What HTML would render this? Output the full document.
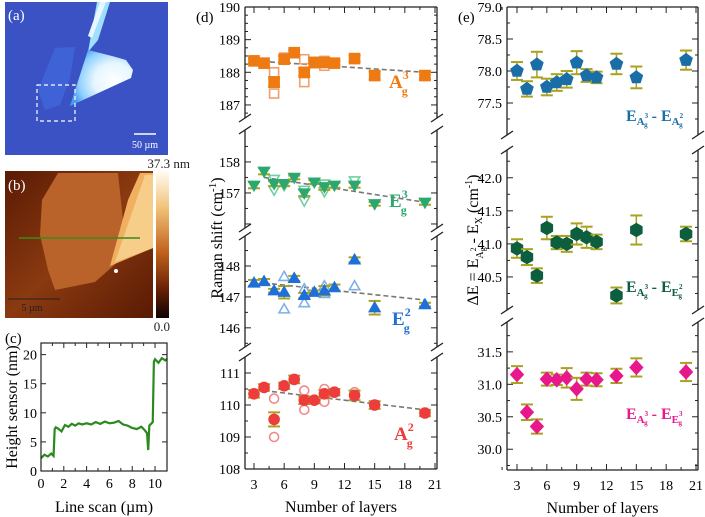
<!DOCTYPE html>
<html><head><meta charset="utf-8">
<style>
body{margin:0;background:#fff;width:705px;height:517px;overflow:hidden;font-family:"Liberation Serif",serif}
svg{display:block}
text{font-family:"Liberation Serif",serif}
</style></head>
<body>
<svg id="fig" width="705" height="517" viewBox="0 0 705 517">
<defs>
 <radialGradient id="flakeglow" cx="0.7" cy="0.55" r="0.7">
  <stop offset="0" stop-color="#ffffff"/><stop offset="0.45" stop-color="#e6f6ff"/><stop offset="0.8" stop-color="#8fd0ff"/><stop offset="1" stop-color="#4a9cf0"/>
 </radialGradient>
 <linearGradient id="cbar" x1="0" y1="0" x2="0" y2="1">
  <stop offset="0" stop-color="#fffdf2"/><stop offset="0.25" stop-color="#f2c27a"/><stop offset="0.55" stop-color="#c2621c"/><stop offset="0.8" stop-color="#6a2206"/><stop offset="1" stop-color="#100200"/>
 </linearGradient>
 <linearGradient id="afmbg" x1="0" y1="0" x2="1" y2="1">
  <stop offset="0" stop-color="#5a1a04"/><stop offset="0.5" stop-color="#8a3a10"/><stop offset="1" stop-color="#5a1a04"/>
 </linearGradient>
</defs>
<!-- panel a -->
<g>
 <rect x="5" y="2" width="163" height="153" fill="#3b52c4"/>
 <path d="M55,48 L75,47 L70,78 L60,105 L45,110 L38,90 Z" fill="#4266dc" opacity="0.8"/>
 <path d="M97,2 L110,2 L98,40 L88,52 Z" fill="#9fe0ff"/>
 <path d="M88,50 L112,56 L126,60 L133,70 L131,78 L70,106 Z" fill="url(#flakeglow)"/>
 <path d="M100,2 L106,2 L92,38 L88,36 Z" fill="#e8f6ff"/>
 <rect x="37" y="85" width="38" height="36" fill="none" stroke="#fff" stroke-width="1.2" stroke-dasharray="4,3"/>
 <line x1="134" y1="134" x2="156" y2="134" stroke="#fff" stroke-width="1.5"/>
 <text x="145" y="148" font-size="10" fill="#fff" text-anchor="middle" font-family="Liberation Sans">50 µm</text>
 <text x="8" y="20" font-size="15" fill="#fff">(a)</text>
</g>
<!-- panel b -->
<g>
 <rect x="5" y="171" width="148" height="147" fill="url(#afmbg)"/>
 <path d="M58,173 L118,173 L124,230 L120,260 L95,282 L55,290 L48,270 L40,235 L42,200 Z" fill="#b9622a"/>
 <path d="M140,173 L153,173 L153,248 L110,266 L128,200 Z" fill="#f0b060"/>
 <path d="M145,175 L153,175 L153,248 L115,262 Z" fill="#f7cd8a"/>
 <line x1="19" y1="238" x2="140" y2="238" stroke="#3c8a1a" stroke-width="1.5"/>
 <circle cx="116" cy="271" r="2" fill="#fff"/>
 <line x1="8" y1="299" x2="60" y2="299" stroke="#222" stroke-width="1"/>
 <text x="32" y="311" font-size="10" fill="#222" text-anchor="middle">5 µm</text>
 <text x="8" y="190" font-size="15" fill="#fff">(b)</text>
 <rect x="156" y="171" width="13" height="147" fill="url(#cbar)"/>
 <text x="190" y="168" font-size="13" text-anchor="end" fill="#222">37.3 nm</text>
 <text x="170" y="331" font-size="13" text-anchor="end" fill="#222">0.0</text>
</g>
<g id="pc"></g>
<g id="pd"></g>
<g id="pe"></g>
</svg>
<script>
const NS='http://www.w3.org/2000/svg';
function el(parent,tag,attrs,txt){const e=document.createElementNS(NS,tag);for(const k in attrs)e.setAttribute(k,attrs[k]);if(txt!==undefined)e.textContent=txt;parent.appendChild(e);return e;}

/* ---------- data: panel c ---------- */
const scanX=[0,0.3,0.6,0.9,1.1,1.2,1.3,1.5,1.8,2.1,2.4,2.7,3.0,3.3,3.6,4.0,4.4,4.8,5.2,5.6,6.0,6.4,6.8,7.2,7.6,8.0,8.4,8.8,9.1,9.3,9.4,9.5,9.6,9.8,9.9,10.0,10.3,10.6,10.9,11.05];
const scanY=[2.2,2.8,2.5,3.0,2.6,7.2,7.5,7.3,6.8,7.9,7.6,8.1,7.8,8.2,8.0,8.2,8.0,8.4,8.1,8.5,8.2,8.3,8.6,8.0,7.8,7.4,7.2,7.6,7.0,6.5,3.6,7.8,8.0,8.4,18.8,19.2,18.6,19.4,19.0,19.3];
const cXTicks=[0,2,4,6,8,10];
const cYTicks=[0,5,10,15,20];

/* ---------- data: panel d ---------- */
const layers=[3,4,5,6,7,8,9,10,11,13,15,20];
const a3Fill=[188.35,188.28,187.7,188.4,188.6,188.0,188.3,188.3,188.28,188.42,187.9,187.9];
const a3Err=[0.08,0.07,0.15,0.1,0.08,0.12,0.15,0.1,0.07,0.1,0.12,0.12];
const a3OpenX=[5,5,6,8,8,10,10];
const a3OpenY=[188.0,187.35,188.45,188.4,187.7,188.35,188.2];
const e3Fill=[157.25,157.7,157.3,157.3,157.5,157.0,157.35,157.2,157.25,157.25,156.65,156.7];
const e3Err=[0.1,0.1,0.08,0.08,0.06,0.1,0.06,0.1,0.08,0.08,0.06,0.08];
const e3OpenX=[5,5,6,8,8,10,10,13];
const e3OpenY=[157.45,157.1,157.25,157.1,156.75,157.3,157.05,157.4];
const e2Fill=[147.45,147.5,147.2,147.15,147.6,147.05,147.15,147.2,147.3,148.2,146.65,146.75];
const e2Err=[0.1,0.08,0.06,0.2,0.08,0.08,0.06,0.15,0.1,0.08,0.22,0.06];
const e2OpenX=[6,6,8,8,10,10,13];
const e2OpenY=[147.65,146.6,147.25,146.8,147.35,147.1,147.35];
const a2Fill=[110.35,110.55,109.55,110.6,110.8,110.15,110.15,110.35,110.4,110.3,110.0,109.75];
const a2Err=[0.12,0.1,0.22,0.1,0.12,0.12,0.1,0.12,0.1,0.15,0.12,0.1];
const a2OpenX=[5,5,8,8,10,10,13];
const a2OpenY=[110.2,109.0,110.45,109.85,110.5,110.1,110.4];
const a3Trend=[3,188.35,20,188.0];
const e3Trend=[4,157.5,20,156.7];
const e2Trend=[4,147.45,20,146.9];
const a2Trend=[4,110.45,20,109.85];

/* ---------- data: panel e ---------- */
const dA=[78.0,77.72,78.1,77.75,77.82,77.87,78.13,77.93,77.9,78.11,77.9,78.17];
const dAErr=[0.14,0.12,0.2,0.13,0.13,0.13,0.18,0.1,0.09,0.16,0.17,0.15];
const dE2=[40.93,40.8,40.52,41.24,41.02,41.0,41.15,41.1,41.03,40.22,41.21,41.15];
const dE2Err=[0.14,0.12,0.11,0.17,0.1,0.12,0.16,0.16,0.11,0.12,0.22,0.11];
const dE3=[31.15,30.57,30.35,31.08,31.07,31.1,30.93,31.08,31.07,31.13,31.26,31.19];
const dE3Err=[0.13,0.12,0.11,0.1,0.08,0.15,0.17,0.1,0.1,0.11,0.14,0.14];
const xTicks=[3,6,9,12,15,18,21];

/* ---------- panel c ---------- */
(function(){
 const g=document.getElementById('pc');
 const L=41,R=167,T=343,B=471;
 const xs=v=>L+v*(R-L)/11.05, ys=v=>B-v*(B-T)/22;
 el(g,'text',{x:5,y:343,'font-size':15},'(c)');
 for(const v of cXTicks){
  const t=el(g,'text',{x:xs(v),y:B+17,'font-size':14,'text-anchor':'middle'},v);
  
  
  el(g,'line',{x1:xs(v),x2:xs(v),y1:B,y2:B-5,stroke:'#222'});
  el(g,'line',{x1:xs(v),x2:xs(v),y1:T,y2:T+5,stroke:'#222'});
  if(v<10){el(g,'line',{x1:xs(v+1),x2:xs(v+1),y1:B,y2:B-3,stroke:'#222'});el(g,'line',{x1:xs(v+1),x2:xs(v+1),y1:T,y2:T+3,stroke:'#222'});}
 }
 for(const v of cYTicks){
  const t=el(g,'text',{x:L-4,y:ys(v)+5,'font-size':14,'text-anchor':'end'},v);
  
  
  el(g,'line',{x1:L,x2:L+5,y1:ys(v),y2:ys(v),stroke:'#222'});
  el(g,'line',{x1:R,x2:R-5,y1:ys(v),y2:ys(v),stroke:'#222'});
 }
 const p=el(g,'polyline',{points:scanX.map((x,i)=>xs(x)+','+ys(scanY[i])).join(' '),fill:'none',stroke:'#2a8a1e','stroke-width':2.2});
 
 
 el(g,'rect',{x:L,y:T,width:R-L,height:B-T,fill:'none',stroke:'#222','stroke-width':1.2});
 const xl=el(g,'text',{x:104,y:512,'font-size':16,'text-anchor':'middle'},'Line scan (µm)');
 
 
 const yl=el(g,'text',{x:0,y:0,'font-size':16,'text-anchor':'middle',transform:'translate(17,407) rotate(-90)'},'Height sensor (nm)');
 
 
})();

/* ---------- shared helpers ---------- */
function marker(g,shape,cx,cy,color,open,s){
 let e;
 if(shape==='sq') e=el(g,'rect',{x:cx-s,y:cy-s,width:2*s,height:2*s});
 else if(shape==='circ') e=el(g,'circle',{cx:cx,cy:cy,r:s});
 else if(shape==='up') e=el(g,'polygon',{points:`${cx},${cy-s*1.2} ${cx+s*1.15},${cy+s*0.8} ${cx-s*1.15},${cy+s*0.8}`});
 else if(shape==='down') e=el(g,'polygon',{points:`${cx},${cy+s*1.2} ${cx+s*1.15},${cy-s*0.8} ${cx-s*1.15},${cy-s*0.8}`});
 else if(shape==='dia') e=el(g,'polygon',{points:`${cx},${cy-s*1.3} ${cx+s*1.2},${cy} ${cx},${cy+s*1.3} ${cx-s*1.2},${cy}`});
 else if(shape==='pent'||shape==='hex'){
  const n=shape==='pent'?5:6, pts=[];
  for(let k=0;k<n;k++){const a=-Math.PI/2+k*2*Math.PI/n;pts.push((cx+s*1.2*Math.cos(a)).toFixed(1)+','+(cy+s*1.2*Math.sin(a)).toFixed(1));}
  e=el(g,'polygon',{points:pts.join(' ')});
 }
 if(open){e.setAttribute('fill','none');e.setAttribute('stroke',color);e.setAttribute('stroke-width',1.6);}
 else e.setAttribute('fill',color);
 return e;
}
function errbar(g,x,y1,y2){
 const c='#a9a21e';
 el(g,'line',{x1:x,x2:x,y1:y1,y2:y2,stroke:c,'stroke-width':1.5});
 el(g,'line',{x1:x-6,x2:x+6,y1:y1,y2:y1,stroke:c,'stroke-width':2});
 el(g,'line',{x1:x-6,x2:x+6,y1:y2,y2:y2,stroke:c,'stroke-width':2});
}
function framePanel(g,L,R,T,B,subs,xs,fmt){
 const k='#222';
 subs.forEach((s,i)=>{
  const ys=v=>s.top+(s.vTop-v)*(s.bot-s.top)/(s.vTop-s.vBot);
  const y0=i===0?T:s.top, y1=i===subs.length-1?B:s.bot;
  el(g,'line',{x1:L,x2:L,y1:y0,y2:y1,stroke:k,'stroke-width':1.3});
  el(g,'line',{x1:R,x2:R,y1:y0,y2:y1,stroke:k,'stroke-width':1.3});
  for(const v of s.ticks){
   const y=ys(v);
   el(g,'line',{x1:L,x2:L+6,y1:y,y2:y,stroke:k});el(g,'line',{x1:R,x2:R-6,y1:y,y2:y,stroke:k});
   if(s.labels.includes(v)){
    const t=el(g,'text',{x:L-5,y:y+5,'font-size':14,'text-anchor':'end'},fmt(v));
    
    
   }
  }
  for(const v of s.minor){const y=ys(v);el(g,'line',{x1:L,x2:L+3,y1:y,y2:y,stroke:k});el(g,'line',{x1:R,x2:R-3,y1:y,y2:y,stroke:k});}
  if(i<subs.length-1){
   const yb=s.bot, yn=subs[i+1].top;
   for(const X of [L,R]){
    for(const yy of [yb,yn]){
     const m=el(g,'line',{x1:X-6,x2:X+6,y1:yy+4,y2:yy-4,stroke:k,'stroke-width':1.3});
     
     
    }
   }
  }
 });
 el(g,'line',{x1:L,x2:R,y1:T,y2:T,stroke:k,'stroke-width':1.3});
 el(g,'line',{x1:L,x2:R,y1:B,y2:B,stroke:k,'stroke-width':1.3});
 for(const v of xTicks){
  const x=xs(v);
  el(g,'line',{x1:x,x2:x,y1:B,y2:B-6,stroke:k});el(g,'line',{x1:x,x2:x,y1:T,y2:T+6,stroke:k});
  const xm=xs(v-1.5);el(g,'line',{x1:xm,x2:xm,y1:B,y2:B-3,stroke:k});el(g,'line',{x1:xm,x2:xm,y1:T,y2:T+3,stroke:k});
  const t=el(g,'text',{x:x,y:B+20,'font-size':14,'text-anchor':'middle'},v);
  
  
 }
 const xl=el(g,'text',{x:(L+R)/2,y:B+43,'font-size':16,'text-anchor':'middle'},'Number of layers');
 
 
}
function modeLabel(g,x,y,base,sup,color,name){
 const t=el(g,'text',{x:x,y:y,'font-size':19,'font-weight':'bold',fill:color});
 
 
 el(t,'tspan',{},base);
 el(t,'tspan',{dy:-9,'font-size':12},sup);
 el(t,'tspan',{dx:-7,dy:16,'font-size':12},'g');
}

/* ---------- panel d ---------- */
(function(){
 const g=document.getElementById('pd');
 const L=245,R=437,T=7,B=469;
 const xs=v=>254+(v-3)*(435-254)/18;
 const subs=[
  {top:7,bot:118,vTop:190,vBot:186.6,ticks:[187,188,189,190],labels:[187,188,189,190],minor:[186.75,187.25,187.5,187.75,188.25,188.5,188.75,189.25,189.5,189.75]},
  {top:130,bot:228,vTop:159.03,vBot:155.87,ticks:[156,157,158],labels:[157,158],minor:[156.5,157.5,158.5]},
  {top:236,bot:347,vTop:148.97,vBot:145.38,ticks:[146,147,148],labels:[146,147,148],minor:[145.5,146.5,147.5,148.5]},
  {top:357,bot:469,vTop:111.5,vBot:108,ticks:[108,109,110,111],labels:[108,109,110,111],minor:[108.5,109.5,110.5]}
 ];
 framePanel(g,L,R,T,B,subs,xs,v=>v);
 el(g,'text',{x:196,y:22,'font-size':15},'(d)');
 const yl=el(g,'text',{x:0,y:0,'font-size':16,'text-anchor':'middle',transform:'translate(222,238) rotate(-90)'});
 
 
 el(yl,'tspan',{},'Raman shift (cm');el(yl,'tspan',{dy:-6,'font-size':11},'-1');el(yl,'tspan',{dy:6},')');
 const series=[
  {s:subs[0],fill:a3Fill,err:a3Err,ox:a3OpenX,oy:a3OpenY,tr:a3Trend,shape:'sq',c:'#f07a12',oc:'#f0a070',n:'a3g'},
  {s:subs[1],fill:e3Fill,err:e3Err,ox:e3OpenX,oy:e3OpenY,tr:e3Trend,shape:'down',c:'#2aa870',oc:'#70d0a0',n:'e3g'},
  {s:subs[2],fill:e2Fill,err:e2Err,ox:e2OpenX,oy:e2OpenY,tr:e2Trend,shape:'up',c:'#1e6fd8',oc:'#7fb0e8',n:'e2g'},
  {s:subs[3],fill:a2Fill,err:a2Err,ox:a2OpenX,oy:a2OpenY,tr:a2Trend,shape:'circ',c:'#ee3b3b',oc:'#f08a8a',n:'a2g'}
 ];
 for(const d of series){
  const s=d.s, ys=v=>s.top+(s.vTop-v)*(s.bot-s.top)/(s.vTop-s.vBot);
  const tl=el(g,'line',{x1:xs(d.tr[0]),y1:ys(d.tr[1]),x2:xs(d.tr[2]),y2:ys(d.tr[3]),stroke:'#777','stroke-width':1.6,'stroke-dasharray':'5,3'});
  
  
  d.ox.forEach((x,i)=>{
   const m=marker(g,d.shape,xs(x),ys(d.oy[i]),d.oc,true,4.5);
   
   
  });
  layers.forEach((x,i)=>{
   errbar(g,xs(x),ys(d.fill[i]+d.err[i]),ys(d.fill[i]-d.err[i]));
   const m=marker(g,d.shape,xs(x),ys(d.fill[i]),d.c,false,5.8);
   
   
  });
 }
 modeLabel(g,389,88,'A','3','#f07a12','label-a3g');
 modeLabel(g,389,207,'E','3','#2aa870','label-e3g');
 modeLabel(g,392,325,'E','2','#1e6fd8','label-e2g');
 modeLabel(g,394,440,'A','2','#ee3b3b','label-a2g');
})();

/* ---------- panel e ---------- */
(function(){
 const g=document.getElementById('pe');
 const L=507,R=698,T=7,B=470;
 const xs=v=>517+(v-3)*(696-517)/18;
 const subs=[
  {top:7,bot:135,vTop:79.0,vBot:77.0,ticks:[77.5,78.0,78.5,79.0],labels:[77.5,78.0,78.5,79.0],minor:[77.25,77.75,78.25,78.75]},
  {top:150,bot:310,vTop:42.42,vBot:40.0,ticks:[40.5,41.0,41.5,42.0],labels:[40.5,41.0,41.5,42.0],minor:[40.25,40.75,41.25,41.75,42.25]},
  {top:322,bot:470,vTop:31.96,vBot:29.68,ticks:[30.0,30.5,31.0,31.5],labels:[30.0,30.5,31.0,31.5],minor:[29.75,30.25,30.75,31.25,31.75]}
 ];
 framePanel(g,L,R,T,B,subs,xs,v=>v.toFixed(1));
 el(g,'text',{x:458,y:22,'font-size':15},'(e)');
 const yl=el(g,'text',{x:0,y:0,'font-size':16,'text-anchor':'middle',transform:'translate(478,240) rotate(-90)'});
 
 
 el(yl,'tspan',{},'ΔE = E');el(yl,'tspan',{dy:5,'font-size':10},'A');el(yl,'tspan',{dy:-7,'font-size':8},'2');el(yl,'tspan',{dx:-4,dy:9,'font-size':8},'g');
 el(yl,'tspan',{dy:-7},' - E');el(yl,'tspan',{dy:4,'font-size':10},'X');el(yl,'tspan',{dy:-4},' (cm');el(yl,'tspan',{dy:-6,'font-size':10},'-1');el(yl,'tspan',{dy:6},')');
 const series=[
  {s:subs[0],v:dA,err:dAErr,shape:'pent',c:'#1a6ea8',n:'a3-minus-a2'},
  {s:subs[1],v:dE2,err:dE2Err,shape:'hex',c:'#0d5e3c',n:'a3-minus-e2'},
  {s:subs[2],v:dE3,err:dE3Err,shape:'dia',c:'#e8188c',n:'a3-minus-e3'}
 ];
 for(const d of series){
  const s=d.s, ys=v=>s.top+(s.vTop-v)*(s.bot-s.top)/(s.vTop-s.vBot);
  layers.forEach((x,i)=>{
   errbar(g,xs(x),ys(d.v[i]+d.err[i]),ys(d.v[i]-d.err[i]));
   const m=marker(g,d.shape,xs(x),ys(d.v[i]),d.c,false,6);
   
   
  });
 }
 function diffLabel(y,b1,b2,color,name){
  const t=el(g,'text',{x:626,y:y,'font-size':16,'font-weight':'bold',fill:color});
  
  
  el(t,'tspan',{},'E');el(t,'tspan',{dy:4,'font-size':11},b1[0]);el(t,'tspan',{dy:-7,'font-size':7},b1[1]);el(t,'tspan',{dx:-4,dy:9,'font-size':7},'g');
  el(t,'tspan',{dy:-6},' - E');el(t,'tspan',{dy:4,'font-size':11},b2[0]);el(t,'tspan',{dy:-7,'font-size':7},b2[1]);el(t,'tspan',{dx:-4,dy:9,'font-size':7},'g');
 }
 diffLabel(121,'A3','A2','#1a6ea8','label-a3-minus-a2');
 diffLabel(292,'A3','E2','#0d5e3c','label-a3-minus-e2');
 diffLabel(419,'A3','E3','#e8188c','label-a3-minus-e3');
})();
</script>
</body></html>
